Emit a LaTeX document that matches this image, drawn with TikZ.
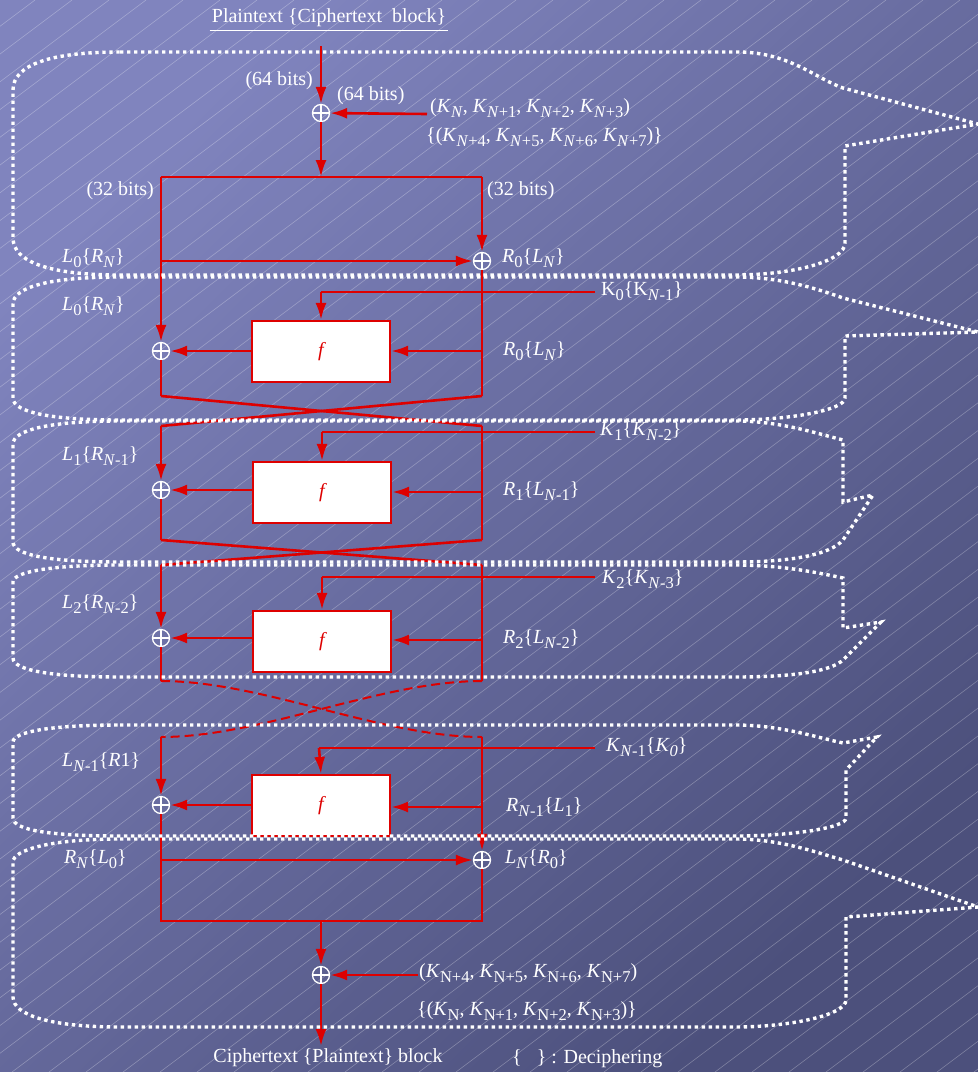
\documentclass[tikz,border=0pt]{standalone}
\usepackage{fontspec}
\setmainfont{Liberation Serif}
\usetikzlibrary{arrows.meta,calc}
\definecolor{rd}{RGB}{222,0,0}
\definecolor{bgA}{RGB}{128,132,190}
\definecolor{bgB}{RGB}{76,80,124}
\newcommand\sbs[1]{\raisebox{-5pt}{\fontsize{16.5}{16.5}\selectfont #1}}
\newcommand\ii[1]{\textit{#1}}
\tikzset{
  lbl/.style={text=white, inner sep=0pt, font=\fontsize{20}{23}\selectfont},
  xorc/.style={circle, draw=white, line width=1.3pt, minimum size=17pt, inner sep=0pt,
    path picture={\draw[white, line width=1.3pt] (path picture bounding box.north) -- (path picture bounding box.south) (path picture bounding box.west) -- (path picture bounding box.east);}},
  fboxst/.style={draw=rd, fill=white, line width=2.2pt, minimum width=138pt, minimum height=61pt, inner sep=0pt, text=rd, font=\fontsize{20}{20}\selectfont\itshape},
  wire/.style={draw=rd, line width=2.6pt},
  arr/.style={wire, -{Latex[length=17pt,width=11pt]}},
  dwire/.style={wire, line width=2pt, dash pattern=on 9pt off 5pt},
  bub/.style={draw=white, line width=3.4pt, dash pattern=on 3.4pt off 3.6pt},
  hatch/.style={draw=white, opacity=.28, line width=.6pt}
}
\begin{document}
\begin{tikzpicture}[x=1pt, y=-1pt]
\path[use as bounding box] (0,0) rectangle (978,1072);
\shade[top color=bgA, bottom color=bgB, shading angle=45] (0,0) rectangle (978,1072);
\begin{scope}
  \clip (0,0) rectangle (978,1072);
  \foreach \i in {-1431,-1394,...,990} \draw[hatch] (\i,1072) -- ({\i+1429},0);
\end{scope}

% ---------- title ----------
\node[lbl, inner sep=2pt] (title) at (329,18) {Plaintext \{Ciphertext\ \ block\}};
\draw[white, line width=1.3pt] ([yshift=-1pt]title.south west) -- ([yshift=-1pt]title.south east);

% ---------- nodes ----------
\coordinate (s0) at (321,46);
\node[xorc] (x0) at (321,113) {};
\coordinate (k0) at (427,114);
\coordinate (tm) at (321,177);
\coordinate (tl) at (161,177);
\coordinate (tr) at (482,177);
\node[xorc] (xr0) at (482,261) {};
\coordinate (h0) at (161,261);

% round 1
\node[fboxst] (f1) at (321,351.5) {f};
\node[xorc] (xl1) at (161,351) {};
\coordinate (k1a) at (595,292); \coordinate (k1b) at (321,292);
\coordinate (r1m) at (482,351);
\coordinate (l1b) at (161,396); \coordinate (r1b) at (482,396);
% round 2
\coordinate (l2t) at (161,426); \coordinate (r2t) at (482,426);
\node[fboxst] (f2) at (322,492.5) {f};
\node[xorc] (xl2) at (161,490) {};
\coordinate (k2a) at (595,432); \coordinate (k2b) at (322,432);
\coordinate (r2m) at (482,492);
\coordinate (l2b) at (161,540); \coordinate (r2b) at (482,540);
% round 3
\coordinate (l3t) at (161,565); \coordinate (r3t) at (482,565);
\node[fboxst] (f3) at (322,641.5) {f};
\node[xorc] (xl3) at (161,638) {};
\coordinate (k3a) at (595,577); \coordinate (k3b) at (322,577);
\coordinate (r3m) at (482,640);
\coordinate (l3b) at (161,681); \coordinate (r3b) at (482,681);
% round N-1
\coordinate (l4t) at (161,737); \coordinate (r4t) at (482,737);
\node[fboxst] (f4) at (321,805.5) {f};
\node[xorc] (xl4) at (161,805) {};
\coordinate (k4a) at (595,748); \coordinate (k4b) at (319,748);
\coordinate (r4m) at (482,807);
\node[xorc] (xr5) at (482,860) {};
\coordinate (h5) at (161,860);
\coordinate (l5b) at (161,921); \coordinate (r5b) at (482,921); \coordinate (bm) at (321,921);
\node[xorc] (xf) at (321,975) {};
\coordinate (kf) at (418,975);
\coordinate (e0) at (321,1046);

% ---------- wires ----------
\draw[arr] (s0) -- (x0);
\draw[arr] (k0) -- (x0);
\draw[arr] (x0) -- (tm);
\draw[wire] (tl) -- (tr);
\draw[arr] (tr) -- (xr0);
\draw[arr] (h0) -- (xr0);
\draw[arr] (tl) -- (xl1);
% round 1
\draw[wire] (xr0) -- (r1b);
\draw[arr] (r1m) -- (r1m -| f1.east);
\draw[wire] (k1a) -- (k1b);
\draw[arr] (k1b) -- (f1.north);
\draw[arr] (f1.west |- xl1) -- (xl1);
\draw[wire] (xl1) -- (l1b);
\draw[wire] (l1b) -- (r2t);
\draw[wire] (r1b) -- (l2t);
% round 2
\draw[arr] (l2t) -- (xl2);
\draw[wire] (r2t) -- (r2b);
\draw[arr] (r2m) -- (r2m -| f2.east);
\draw[wire] (k2a) -- (k2b);
\draw[arr] (k2b) -- (f2.north);
\draw[arr] (f2.west |- xl2) -- (xl2);
\draw[wire] (xl2) -- (l2b);
\draw[wire] (l2b) -- (r3t);
\draw[wire] (r2b) -- (l3t);
% round 3
\draw[arr] (l3t) -- (xl3);
\draw[wire] (r3t) -- (r3b);
\draw[arr] (r3m) -- (r3m -| f3.east);
\draw[wire] (k3a) -- (k3b);
\draw[arr] (k3b) -- (f3.north);
\draw[arr] (f3.west |- xl3) -- (xl3);
\draw[wire] (xl3) -- (l3b);
\draw[dwire] (l3b) .. controls (262,681) and (381,737) .. (r4t);
\draw[dwire] (r3b) .. controls (381,681) and (262,737) .. (l4t);
% round N-1
\draw[arr] (l4t) -- (xl4);
\draw[arr] (r4t) -- (xr5);
\draw[arr] (r4m) -- (r4m -| f4.east);
\draw[wire] (k4a) -- (k4b);
\draw[arr] (k4b) -- (f4.north);
\draw[arr] (f4.west |- xl4) -- (xl4);
\draw[wire] (xl4) -- (l5b) -- (r5b) -- (xr5);
\draw[arr] (h5) -- (xr5);
\draw[arr] (bm) -- (xf);
\draw[arr] (kf) -- (xf);
\draw[arr] (xf) -- (e0);

% ---------- callout bubbles ----------
\draw[bub] (120,52) -- (740,52) .. controls (790,53) and (815,78) .. (843,88) -- (978,124) -- (845,146) -- (845,243) .. controls (845,262) and (790,275) .. (735,275) -- (120,275) .. controls (50,275) and (13,262) .. (13,238) -- (13,90) .. controls (13,65) and (50,52) .. (120,52) -- cycle;
\draw[bub] (120,277) -- (735,277) .. controls (780,277) and (815,288) .. (843,298) -- (978,332) -- (845,336) -- (845,398) .. controls (845,410) and (790,420) .. (735,420) -- (120,420) .. controls (50,420) and (13,412) .. (13,398) -- (13,304) .. controls (13,287) and (50,277) .. (120,277) -- cycle;
\draw[bub] (120,421) -- (735,421) .. controls (780,421) and (815,433) .. (843,440) -- (843,502) -- (873,495) -- (843,540) .. controls (830,555) and (790,562) .. (735,562) -- (120,562) .. controls (50,562) and (13,555) .. (13,542) -- (13,444) .. controls (13,430) and (50,421) .. (120,421) -- cycle;
\draw[bub] (120,565) -- (735,565) .. controls (780,565) and (815,572) .. (843,578) -- (843,628) -- (881,622) -- (843,660) .. controls (830,672) and (790,677) .. (735,677) -- (120,677) .. controls (50,677) and (13,670) .. (13,658) -- (13,582) .. controls (13,572) and (50,565) .. (120,565) -- cycle;
\draw[bub] (120,725) -- (735,725) .. controls (780,725) and (815,737) .. (843,743) -- (877,737) -- (846,770) -- (846,818) .. controls (846,828) and (790,836) .. (735,836) -- (120,836) .. controls (50,836) and (13,830) .. (13,818) -- (13,742) .. controls (13,732) and (50,725) .. (120,725) -- cycle;
\draw[bub] (120,839) -- (735,839) .. controls (780,839) and (815,852) .. (843,860) -- (978,907) -- (846,917) -- (846,1000) .. controls (846,1015) and (790,1027) .. (735,1027) -- (120,1027) .. controls (50,1027) and (13,1015) .. (13,997) -- (13,862) .. controls (13,850) and (50,839) .. (120,839) -- cycle;

% ---------- labels ----------
\node[lbl, anchor=east] (b64a) at (313,81) {(64 bits)};
\node[lbl, anchor=west] (b64b) at (337,96) {(64 bits)};
\node[lbl, anchor=west] (kt1) at (430,108) {(\ii{K}\sbs{\ii{N}}, \ii{K}\sbs{\ii{N}+1}, \ii{K}\sbs{\ii{N}+2}, \ii{K}\sbs{\ii{N}+3})};
\node[lbl, anchor=west] (kt2) at (426,137) {\{(\ii{K}\sbs{\ii{N}+4}, \ii{K}\sbs{\ii{N}+5}, \ii{K}\sbs{\ii{N}+6}, \ii{K}\sbs{\ii{N}+7})\}};
\node[lbl, anchor=east] (b32a) at (154,191) {(32 bits)};
\node[lbl, anchor=west] (b32b) at (487,191) {(32 bits)};
\node[lbl, anchor=west] (la) at (62,258) {\ii{L}\sbs{0}\{\ii{R}\sbs{\ii{N}}\}};
\node[lbl, anchor=west] (ra) at (502,258) {\ii{R}\sbs{0}\{\ii{L}\sbs{\ii{N}}\}};
\node[lbl, anchor=west] (lb) at (62,306) {\ii{L}\sbs{0}\{\ii{R}\sbs{\ii{N}}\}};
\node[lbl, anchor=west] (kb) at (601,291) {K\sbs{0}\{K\sbs{\ii{N}-1}\}};
\node[lbl, anchor=west] (rb) at (503,351) {\ii{R}\sbs{0}\{\ii{L}\sbs{\ii{N}}\}};
\node[lbl, anchor=west] (lc) at (62,456) {\ii{L}\sbs{1}\{\ii{R}\sbs{\ii{N}-1}\}};
\node[lbl, anchor=west] (kc) at (600,431) {\ii{K}\sbs{1}\{\ii{K}\sbs{\ii{N}-2}\}};
\node[lbl, anchor=west] (rc) at (503,491) {\ii{R}\sbs{1}\{\ii{L}\sbs{\ii{N}-1}\}};
\node[lbl, anchor=west] (ld) at (62,604) {\ii{L}\sbs{2}\{\ii{R}\sbs{\ii{N}-2}\}};
\node[lbl, anchor=west] (kd) at (602,579) {\ii{K}\sbs{2}\{\ii{K}\sbs{\ii{N}-3}\}};
\node[lbl, anchor=west] (rd2) at (503,639) {\ii{R}\sbs{2}\{\ii{L}\sbs{\ii{N}-2}\}};
\node[lbl, anchor=west] (le) at (62,762) {\ii{L}\sbs{\ii{N}-1}\{\ii{R}1\}};
\node[lbl, anchor=west] (ke) at (606,747) {\ii{K}\sbs{\ii{N}-1}\{\ii{K}\sbs{\ii{0}}\}};
\node[lbl, anchor=west] (re) at (506,807) {\ii{R}\sbs{\ii{N}-1}\{\ii{L}\sbs{1}\}};
\node[lbl, anchor=west] (lf) at (64,859) {\ii{R}\sbs{\ii{N}}\{\ii{L}\sbs{0}\}};
\node[lbl, anchor=west] (rf) at (505,859) {\ii{L}\sbs{\ii{N}}\{\ii{R}\sbs{0}\}};
\node[lbl, anchor=west] (kg1) at (419,973) {(\ii{K}\sbs{N+4}, \ii{K}\sbs{N+5}, \ii{K}\sbs{N+6}, \ii{K}\sbs{N+7})};
\node[lbl, anchor=west] (kg2) at (417,1011) {\{(\ii{K}\sbs{N}, \ii{K}\sbs{N+1}, \ii{K}\sbs{N+2}, \ii{K}\sbs{N+3})\}};
\node[lbl] (ct) at (328,1058) {Ciphertext \{Plaintext\} block};
\node[lbl, anchor=west] (leg) at (512,1059) {\{\ \ \ \} : Deciphering};
\end{tikzpicture}
\end{document}
